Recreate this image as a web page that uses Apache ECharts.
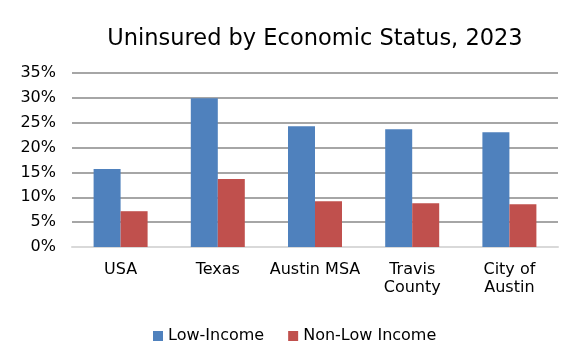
<!DOCTYPE html>
<html>
<head>
<meta charset="utf-8">
<script src="https://cdn.jsdelivr.net/npm/echarts@6/dist/echarts.min.js"></script>
<style>html,body{margin:0;padding:0;background:#fff}#c{width:582px;height:362px}</style>
</head>
<body>
<div id="c"></div>
<script>
const categories = ["USA", "Texas", "Austin MSA", "Travis\nCounty", "City of\nAustin"];
const lowIncome = [15.7, 29.9, 24.3, 23.7, 23.1];
const nonLowIncome = [7.2, 13.7, 9.2, 8.8, 8.6];
const seriesNames = ["Low-Income", "Non-Low Income"];
const FONT = "DejaVu Sans";
const chart = echarts.init(document.getElementById('c'));
chart.setOption({
  animation: false,
  title: {
    text: "Uninsured by Economic Status, 2023",
    left: 310, top: 23, textAlign: 'center',
    textStyle: {fontFamily: FONT, fontSize: 22.5, fontWeight: 'normal', color: '#000'}
  },
  legend: {
    data: seriesNames, left: 148, top: 323,
    itemWidth: 10, itemHeight: 10, itemGap: 24, icon: 'rect',
    textStyle: {fontFamily: FONT, fontSize: 16, color: '#000', padding: [0, 0, 0, 0]}
  },
  grid: {left: 72, right: 24, top: 73, bottom: 115},
  xAxis: {
    type: 'category', data: categories,
    axisLine: {lineStyle: {color: '#d9d9d9', width: 2}},
    axisTick: {show: false},
    axisLabel: {fontFamily: FONT, fontSize: 16, color: '#000', margin: 14, lineHeight: 18, interval: 0}
  },
  yAxis: {
    type: 'value', min: 0, max: 35, interval: 5,
    axisLine: {show: false}, axisTick: {show: false},
    axisLabel: {formatter: '{value}%', fontFamily: FONT, fontSize: 16, color: '#000', margin: 16},
    splitLine: {lineStyle: {color: '#a6a6a6', width: 2}}
  },
  series: [
    {name: seriesNames[0], type: 'bar', data: lowIncome, barWidth: 27, barGap: '0%', itemStyle: {color: '#4f81bd'}},
    {name: seriesNames[1], type: 'bar', data: nonLowIncome, barWidth: 27, itemStyle: {color: '#c0504d'}}
  ]
});
</script>
</body>
</html>
